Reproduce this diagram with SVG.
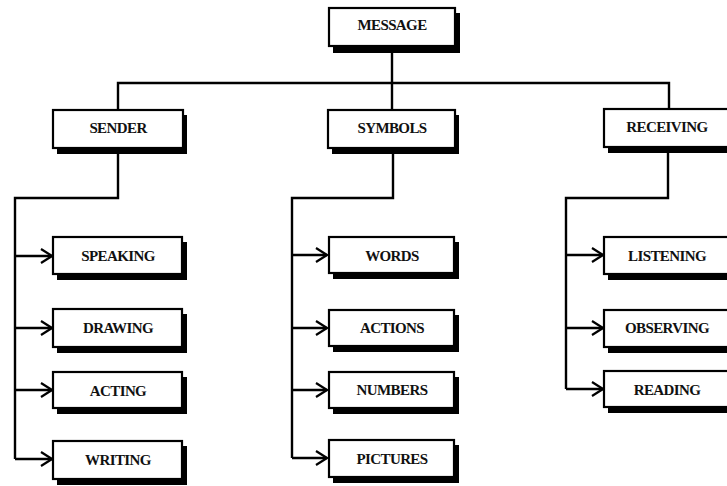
<svg xmlns="http://www.w3.org/2000/svg" width="727" height="486" viewBox="0 0 727 486">
  <style>
    .shadow { fill: #000; }
    .box { fill: #fff; stroke: #000; stroke-width: 2.2; }
    .label { font-family: "Liberation Serif", "Times New Roman", serif; font-weight: bold; font-size: 15px; letter-spacing: -0.6px; fill: #111; text-anchor: middle; }
    .wire { fill: none; stroke: #000; stroke-width: 2.4; stroke-linejoin: miter; }
  </style>
  <defs>
    <marker id="chevron" viewBox="0 0 13 16" refX="12" refY="8" markerWidth="13" markerHeight="16" markerUnits="userSpaceOnUse" orient="auto">
      <path d="M1,1 L12,8 L1,15" fill="none" stroke="#000" stroke-width="2.2"/>
    </marker>
  </defs>
  <rect width="727" height="486" fill="#fff"/>

  <g id="connectors">
    <!-- top bus -->
    <path class="wire" d="M392,46 V111"/>
    <path class="wire" d="M118,110 V83 H669 V110"/>
    <!-- sender branch -->
    <path class="wire" d="M118,148 V198 H15 V459"/>
    <path class="wire" d="M15,256 H52" marker-end="url(#chevron)"/>
    <path class="wire" d="M15,328 H52" marker-end="url(#chevron)"/>
    <path class="wire" d="M15,390 H52" marker-end="url(#chevron)"/>
    <path class="wire" d="M15,459 H52" marker-end="url(#chevron)"/>
    <!-- symbols branch -->
    <path class="wire" d="M393,148 V198 H292 V458"/>
    <path class="wire" d="M292,255 H327" marker-end="url(#chevron)"/>
    <path class="wire" d="M292,328 H327" marker-end="url(#chevron)"/>
    <path class="wire" d="M292,390 H327" marker-end="url(#chevron)"/>
    <path class="wire" d="M292,458 H327" marker-end="url(#chevron)"/>
    <!-- receiving branch -->
    <path class="wire" d="M668,147 V198 H566 V389"/>
    <path class="wire" d="M566,255 H603" marker-end="url(#chevron)"/>
    <path class="wire" d="M566,328 H603" marker-end="url(#chevron)"/>
    <path class="wire" d="M566,389 H603" marker-end="url(#chevron)"/>
  </g>

  <g id="message">
    <rect class="shadow" x="333" y="13" width="127" height="40"/>
    <rect class="box" x="329" y="8" width="126" height="38"/>
    <text class="label" x="392" y="30">MESSAGE</text>
  </g>

  <g id="sender">
    <rect class="shadow" x="57" y="115" width="130" height="39"/>
    <rect class="box" x="53" y="110" width="130" height="38"/>
    <text class="label" x="118" y="133">SENDER</text>
  </g>
  <g id="symbols">
    <rect class="shadow" x="332" y="115" width="127" height="39"/>
    <rect class="box" x="328" y="110" width="127" height="38"/>
    <text class="label" x="392" y="133">SYMBOLS</text>
  </g>
  <g id="receiving">
    <rect class="shadow" x="608" y="114" width="130" height="39"/>
    <rect class="box" x="604" y="109" width="130" height="38"/>
    <text class="label" x="667" y="132">RECEIVING</text>
  </g>

  <g id="speaking">
    <rect class="shadow" x="57" y="242" width="130" height="38"/>
    <rect class="box" x="53" y="237" width="129" height="37"/>
    <text class="label" x="118" y="261">SPEAKING</text>
  </g>
  <g id="drawing">
    <rect class="shadow" x="57" y="314" width="130" height="39"/>
    <rect class="box" x="53" y="309" width="129" height="38"/>
    <text class="label" x="118" y="333">DRAWING</text>
  </g>
  <g id="acting">
    <rect class="shadow" x="57" y="377" width="130" height="37"/>
    <rect class="box" x="53" y="372" width="129" height="36"/>
    <text class="label" x="118" y="396">ACTING</text>
  </g>
  <g id="writing">
    <rect class="shadow" x="57" y="446" width="130" height="39"/>
    <rect class="box" x="53" y="441" width="129" height="38"/>
    <text class="label" x="118" y="465">WRITING</text>
  </g>

  <g id="words">
    <rect class="shadow" x="333" y="242" width="126" height="37"/>
    <rect class="box" x="329" y="237" width="125" height="36"/>
    <text class="label" x="392" y="261">WORDS</text>
  </g>
  <g id="actions">
    <rect class="shadow" x="333" y="315" width="126" height="37"/>
    <rect class="box" x="329" y="310" width="125" height="36"/>
    <text class="label" x="392" y="333">ACTIONS</text>
  </g>
  <g id="numbers">
    <rect class="shadow" x="333" y="377" width="126" height="37"/>
    <rect class="box" x="329" y="372" width="125" height="36"/>
    <text class="label" x="392" y="395">NUMBERS</text>
  </g>
  <g id="pictures">
    <rect class="shadow" x="333" y="445" width="126" height="38"/>
    <rect class="box" x="329" y="440" width="125" height="37"/>
    <text class="label" x="392" y="464">PICTURES</text>
  </g>

  <g id="listening">
    <rect class="shadow" x="608" y="242" width="130" height="38"/>
    <rect class="box" x="604" y="237" width="130" height="37"/>
    <text class="label" x="667" y="261">LISTENING</text>
  </g>
  <g id="observing">
    <rect class="shadow" x="608" y="315" width="130" height="38"/>
    <rect class="box" x="604" y="310" width="130" height="37"/>
    <text class="label" x="667" y="333">OBSERVING</text>
  </g>
  <g id="reading">
    <rect class="shadow" x="608" y="376" width="130" height="37"/>
    <rect class="box" x="604" y="371" width="130" height="36"/>
    <text class="label" x="667" y="395">READING</text>
  </g>
</svg>
